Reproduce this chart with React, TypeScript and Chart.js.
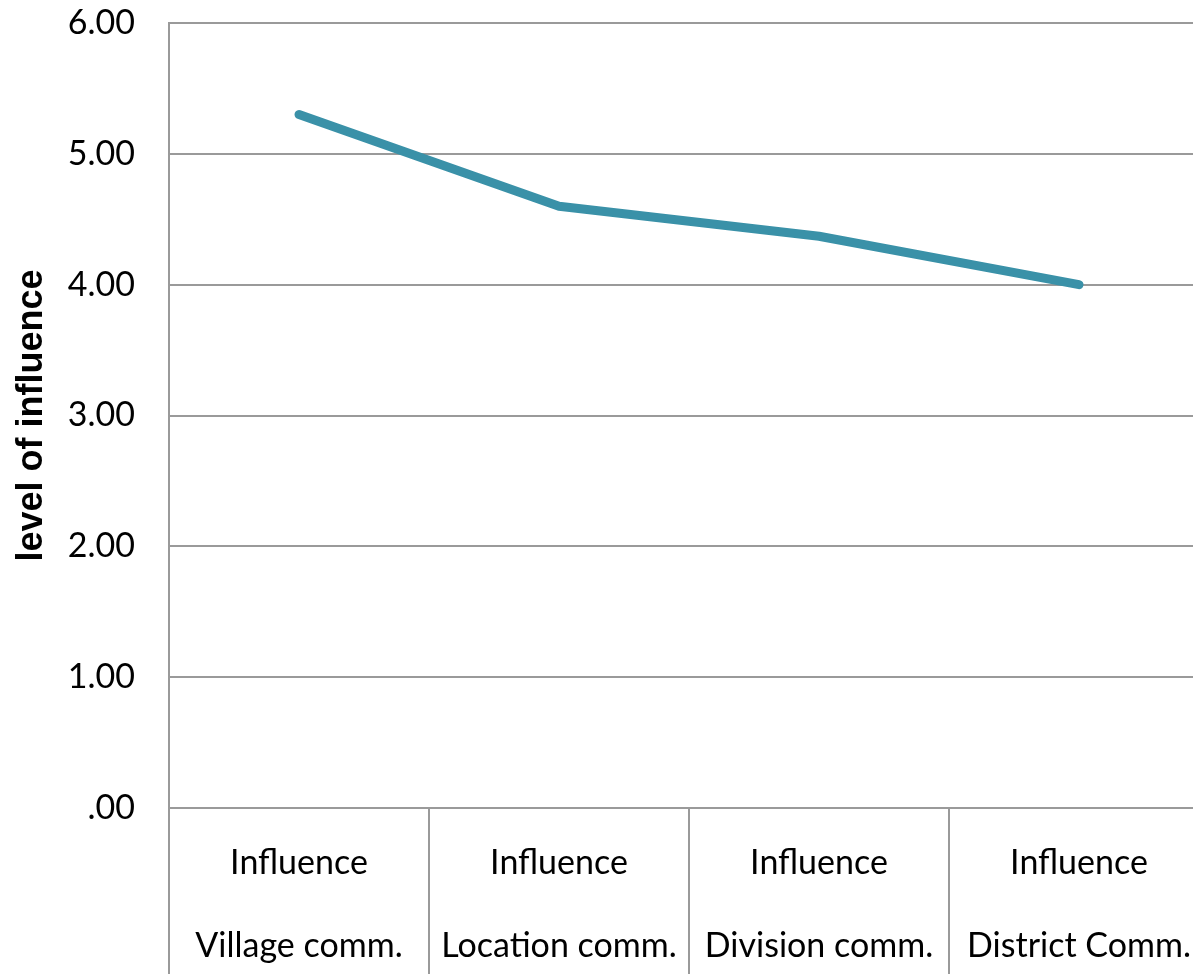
import React, { useEffect, useRef } from "react";
import { Chart, registerables } from "chart.js";

Chart.register(...registerables);

const categoryTop = ["Influence", "Influence", "Influence", "Influence"];
const categoryBottom = ["Village comm.", "Location comm.", "Division comm.", "District Comm."];
const influenceValues = [5.3, 4.6, 4.37, 4.0];
const yTickValues = [0, 1, 2, 3, 4, 5, 6];
const yAxisTitle = "level of influence";

const GRID = "#9a9a9a";
const LINE = "#3A91A8";
const FONT = "Lato, 'Open Sans', sans-serif";

export default function App() {
  const ref = useRef<HTMLCanvasElement | null>(null);

  useEffect(() => {
    if (!ref.current) return;
    const labels = categoryTop.map((t, i) => [t, categoryBottom[i]]);
    const chart = new Chart(ref.current, {
      type: "line",
      data: {
        labels,
        datasets: [
          {
            data: influenceValues,
            borderColor: LINE,
            backgroundColor: LINE,
            borderWidth: 9,
            borderCapStyle: "round",
            borderJoinStyle: "round",
            pointRadius: 0,
            pointHoverRadius: 0,
            tension: 0,
            fill: false,
          },
        ],
      },
      options: {
        responsive: false,
        animation: false,
        events: [],
        layout: { padding: { top: 23, right: 0, left: 0, bottom: 0 } },
        plugins: {
          legend: { display: false },
          tooltip: { enabled: false },
        },
        scales: {
          x: {
            type: "category",
            offset: true,
            grid: {
              offset: true,
              drawOnChartArea: false,
              drawTicks: true,
              tickLength: 166,
              color: GRID,
              lineWidth: 2,
            },
            border: { display: true, color: GRID, width: 2 },
            ticks: {
              color: "#000",
              padding: -152.5,
              maxRotation: 0,
              autoSkip: false,
              font: { family: FONT, size: 34, lineHeight: 83 / 34 },
            },
            afterFit: (scale: any) => {
              scale.height = 166;
              scale.paddingLeft = 0;
              scale.paddingRight = 0;
            },
          },
          y: {
            min: 0,
            max: 6,
            afterBuildTicks: (scale: any) => {
              scale.ticks = yTickValues.map((v) => ({ value: v }));
            },
            grid: {
              drawTicks: false,
              color: GRID,
              lineWidth: 2,
            },
            border: { display: true, color: GRID, width: 2 },
            ticks: {
              color: "#000",
              padding: 34,
              font: { family: FONT, size: 34 },
              callback: (v: any) => (Number(v) === 0 ? ".00" : Number(v).toFixed(2)),
            },
            title: {
              display: true,
              text: yAxisTitle,
              color: "#000",
              font: { family: "'Liberation Sans', Arial, sans-serif", size: 36, weight: "bold" },
              padding: { top: 10, bottom: 0 },
            },
            afterFit: (scale: any) => {
              scale.width = 169;
              scale.paddingTop = 0;
              scale.paddingBottom = 0;
            },
          },
        },
      },
    } as any);
    return () => chart.destroy();
  }, []);

  return (
    <div style={{ position: "fixed", left: 0, top: 0, width: 1193, height: 974, overflow: "hidden", background: "#fff" }}>
      <canvas ref={ref} width={1209} height={974} style={{ display: "block" }} />
    </div>
  );
}
